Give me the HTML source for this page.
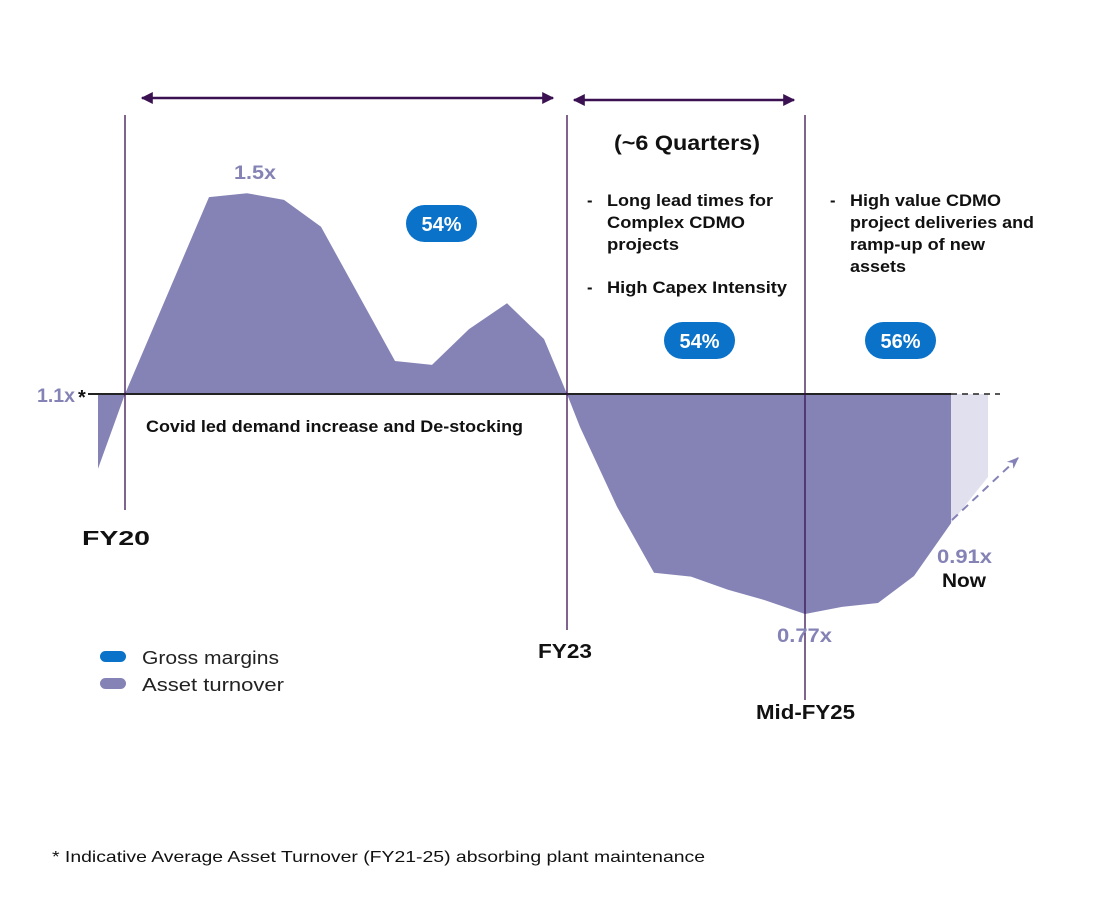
<!DOCTYPE html>
<html><head><meta charset="utf-8"><style>
html,body{margin:0;padding:0;background:#fff}
svg{display:block;font-family:"Liberation Sans",sans-serif}
.b{font-weight:bold;fill:#111}
.p{font-weight:bold;fill:#8583b6}
</style></head><body>
<svg width="1102" height="898" viewBox="0 0 1102 898">
<defs>
<marker id="ah" viewBox="0 0 10 10" refX="9" refY="5" markerWidth="14" markerHeight="12" orient="auto-start-reverse" markerUnits="userSpaceOnUse"><path d="M0,0 L10,5 L0,10 Z" fill="#3b1152"/></marker>
<marker id="ah2" viewBox="0 0 10 10" refX="9" refY="5" markerWidth="12" markerHeight="12" orient="auto" markerUnits="userSpaceOnUse"><path d="M0,1 L10,5 L0,9 L3,5 Z" fill="#8583b6"/></marker>
</defs>
<g id="area"></g>
<polygon points="951,394 988,394 988,477 951,523" fill="#e1e0ef"/>
<line x1="88" y1="394" x2="951" y2="394" stroke="#222" stroke-width="2"/>
<line x1="951" y1="394" x2="1000" y2="394" stroke="#222" stroke-width="1.5" stroke-dasharray="6,5"/>
<line x1="952" y1="520" x2="1018" y2="458" stroke="#8583b6" stroke-width="2" stroke-dasharray="8,6" marker-end="url(#ah2)"/>
<line x1="125" y1="115" x2="125" y2="510" stroke="#3b1152" stroke-width="1.3"/>
<line x1="567" y1="115" x2="567" y2="630" stroke="#3b1152" stroke-width="1.3"/>
<line x1="805" y1="115" x2="805" y2="700" stroke="#3b1152" stroke-width="1.3"/>
<line x1="142" y1="98" x2="553" y2="98" stroke="#3b1152" stroke-width="2.5" marker-start="url(#ah)" marker-end="url(#ah)"/>
<line x1="574" y1="100" x2="794" y2="100" stroke="#3b1152" stroke-width="2.5" marker-start="url(#ah)" marker-end="url(#ah)"/>
<text class="p" x="234" y="179" font-size="19" textLength="42" lengthAdjust="spacingAndGlyphs">1.5x</text>
<text class="p" x="37" y="402" font-size="19" textLength="38" lengthAdjust="spacingAndGlyphs">1.1x</text>
<text class="b" x="78" y="404" font-size="20">*</text>
<text class="p" x="777" y="642" font-size="19" textLength="55" lengthAdjust="spacingAndGlyphs">0.77x</text>
<text class="p" x="937" y="563" font-size="19" textLength="55" lengthAdjust="spacingAndGlyphs">0.91x</text>
<text class="b" x="942" y="587" font-size="19" textLength="44" lengthAdjust="spacingAndGlyphs">Now</text>
<text class="b" x="146" y="432" font-size="17" textLength="377" lengthAdjust="spacingAndGlyphs">Covid led demand increase and De-stocking</text>
<text class="b" x="82" y="545" font-size="20" textLength="68" lengthAdjust="spacingAndGlyphs">FY20</text>
<text class="b" x="538" y="658" font-size="20" textLength="54" lengthAdjust="spacingAndGlyphs">FY23</text>
<text class="b" x="756" y="719" font-size="20" textLength="99" lengthAdjust="spacingAndGlyphs">Mid-FY25</text>
<text class="b" x="614" y="150" font-size="21" textLength="146" lengthAdjust="spacingAndGlyphs">(~6 Quarters)</text>
<g class="b" font-size="16.5">
<text x="587" y="206">-</text><text x="607" y="206" textLength="166" lengthAdjust="spacingAndGlyphs">Long lead times for</text>
<text x="607" y="228" textLength="138" lengthAdjust="spacingAndGlyphs">Complex CDMO</text><text x="607" y="250" textLength="72" lengthAdjust="spacingAndGlyphs">projects</text>
<text x="587" y="293">-</text><text x="607" y="293" textLength="180" lengthAdjust="spacingAndGlyphs">High Capex Intensity</text>
</g>
<g class="b" font-size="16.5">
<text x="830" y="206">-</text><text x="850" y="206" textLength="151" lengthAdjust="spacingAndGlyphs">High value CDMO</text>
<text x="850" y="228" textLength="184" lengthAdjust="spacingAndGlyphs">project deliveries and</text><text x="850" y="250" textLength="135" lengthAdjust="spacingAndGlyphs">ramp-up of new</text>
<text x="850" y="272" textLength="56" lengthAdjust="spacingAndGlyphs">assets</text>
</g>
<g><rect x="406" y="205" width="71" height="37" rx="18.5" fill="#0a72c8"/><text x="441.5" y="231" text-anchor="middle" font-size="20" font-weight="bold" fill="#fff">54%</text></g>
<g><rect x="664" y="322" width="71" height="37" rx="18.5" fill="#0a72c8"/><text x="699.5" y="348" text-anchor="middle" font-size="20" font-weight="bold" fill="#fff">54%</text></g>
<g><rect x="865" y="322" width="71" height="37" rx="18.5" fill="#0a72c8"/><text x="900.5" y="348" text-anchor="middle" font-size="20" font-weight="bold" fill="#fff">56%</text></g>
<g><rect x="100" y="651" width="26" height="11" rx="5.5" fill="#0a72c8"/><text x="142" y="664" font-size="18" fill="#222" textLength="137" lengthAdjust="spacingAndGlyphs">Gross margins</text></g>
<g><rect x="100" y="678" width="26" height="11" rx="5.5" fill="#8583b6"/><text x="142" y="691" font-size="18" fill="#222" textLength="142" lengthAdjust="spacingAndGlyphs">Asset turnover</text></g>
<text x="52" y="862" font-size="16" fill="#111" textLength="653" lengthAdjust="spacingAndGlyphs">* Indicative Average Asset Turnover  (FY21-25)  absorbing plant maintenance</text>
</svg>
<script>
const xPos = [98,125,209,247,284,321,395,432,469,507,544,567,580,617,654,691,728,765,805,842,878,914,951];
const turnover = [0.964,1.1,1.458,1.465,1.453,1.404,1.16,1.153,1.218,1.265,1.2,1.1,1.04,0.895,0.775,0.768,0.744,0.725,0.7,0.713,0.72,0.769,0.865];
const baselineValue = 1.1;
function yScale(v){ return 394 - (v - baselineValue) * 550; }
const g = document.getElementById('area');
let pts = xPos[0] + ',' + yScale(baselineValue) + ' ';
for (let i = 0; i < turnover.length; i++) pts += xPos[i] + ',' + yScale(turnover[i]) + ' ';
pts += xPos[xPos.length-1] + ',' + yScale(baselineValue);
const poly = document.createElementNS('http://www.w3.org/2000/svg','polygon');
poly.setAttribute('points', pts);
poly.setAttribute('fill', '#8583b6');


g.appendChild(poly);
</script>
</body></html>
